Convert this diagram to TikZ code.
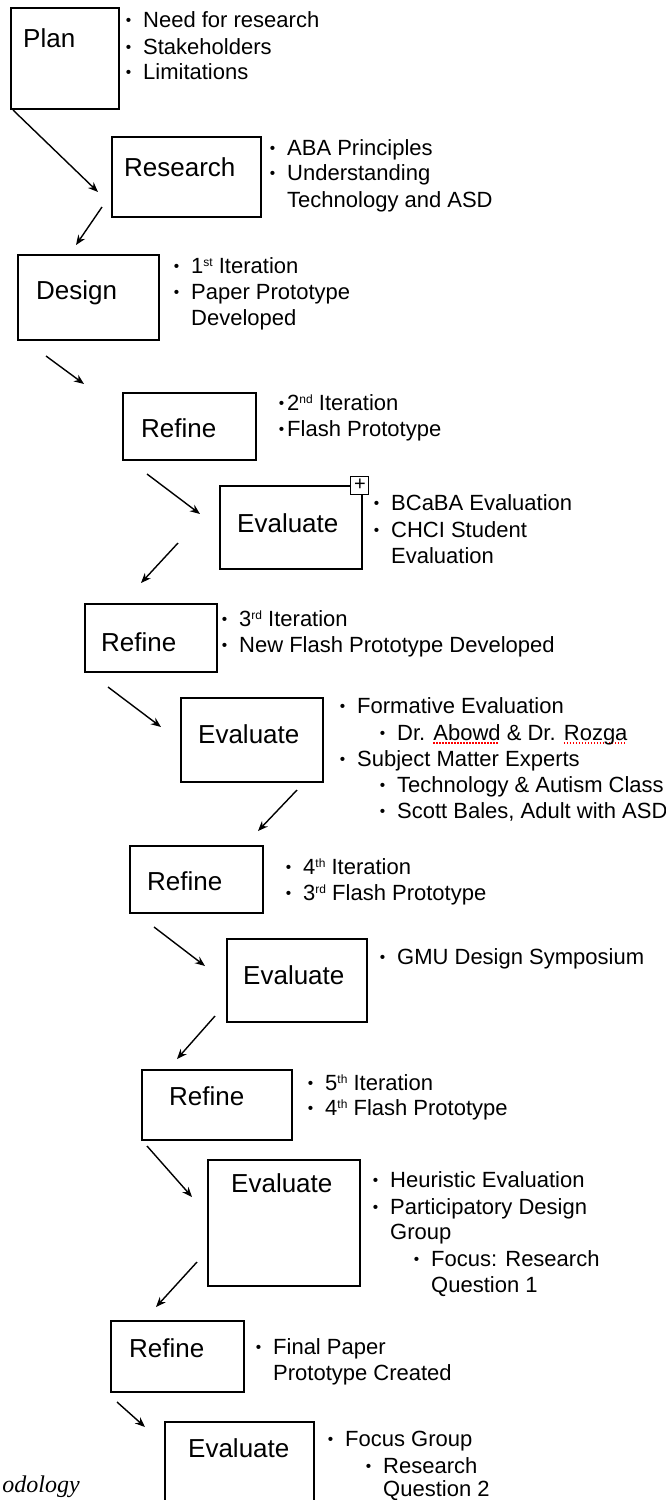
\documentclass[tikz,border=0pt]{standalone}
\usepackage{fontspec}
\setmainfont{Liberation Sans}
\newfontfamily\captionserif{Liberation Serif}
\usepackage{tikz}
\usetikzlibrary{arrows.meta, fit}

\newlength{\spellwd}
\newcommand{\bul}{\llap{\raisebox{1.8pt}{\scalebox{0.7}{\textbullet}}\hspace{12pt}}}
\newcommand{\tightbul}{\llap{\raisebox{1.8pt}{\scalebox{0.7}{\textbullet}}\hspace{3pt}}}
\newcommand{\ordsup}[1]{\raisebox{7pt}{\fontsize{12}{12}\selectfont #1}}
\newcommand{\spellmark}[1]{\settowidth{\spellwd}{#1}%
    \rlap{\textcolor{red}{\hbox to \spellwd{\leaders\hbox to 3pt{\rule[-3.5pt]{1.6pt}{1.2pt}\hss}\hfill}}}#1}

\begin{document}
\begin{tikzpicture}[x=1pt, y=-1pt,
    stage/.style={draw, line width=1.7pt, inner sep=0pt},
    stagetext/.style={anchor=base west, inner sep=0pt, font=\fontsize{26}{30}\selectfont},
    item/.style={anchor=base west, inner sep=0pt, font=\fontsize{22}{26}\selectfont},
    >={Stealth[length=10pt, width=8pt]}]
    \useasboundingbox (0,0) rectangle (665,1500);
    \clip (0,0) rectangle (665,1500);

    % Stage boxes and their names
    \foreach \n/\xa/\ya/\xb/\yb/\lx/\ly/\lab in {
        plan/11/8/119/109/23/47/Plan,
        research/112/137/261/217/124/176/Research,
        design/18/255/159/340/36/299/Design,
        refineA/123/393/256/460/141/437/Refine,
        evalA/220/486/362/569/237/532/Evaluate,
        refineB/85/604/217/672/101/651/Refine,
        evalB/181/698/323/782/198/743/Evaluate,
        refineC/130/846/263/913/147/890/Refine,
        evalC/227/939/367/1022/243/984/Evaluate,
        refineD/142/1070/292/1140/169/1105/Refine,
        evalD/208/1160/360/1286/231/1192/Evaluate,
        refineE/111/1321/244/1392/129/1357/Refine,
        evalE/165/1422/314/1530/188/1457/Evaluate} {
        \node[stage, fit={(\xa,\ya) (\xb,\yb)}] (\n) {};
        \node[stagetext] (\n-text) at (\lx,\ly) {\lab};
    }

    % Expand marker on the first Evaluate box
    \node[draw, fill=white, line width=1.2pt, minimum size=18pt, inner sep=0pt,
        font=\fontsize{20}{20}\selectfont] (toggle) at ([xshift=-3pt]evalA.north east) {+};

    % Bullet points
    \foreach \x/\y/\t [count=\i] in {
        143/27/\bul Need for research,
        143/54/\bul Stakeholders,
        143/79/\bul Limitations,
        287/155/\bul ABA Principles,
        287/180/\bul Understanding,
        287/207/Technology and ASD,
        191/273/\bul 1\ordsup{st} Iteration,
        191/299/\bul Paper Prototype,
        191/325/Developed,
        287/410/\tightbul 2\ordsup{nd} Iteration,
        287/436/\tightbul Flash Prototype,
        391/510/\bul BCaBA Evaluation,
        391/537/\bul CHCI Student,
        391/563/Evaluation,
        239/626/\bul 3\ordsup{rd} Iteration,
        239/652/\bul New Flash Prototype Developed,
        357/713/\bul Formative Evaluation,
        397/740/\bul Dr. \spellmark{Abowd} \& Dr. \spellmark{Rozga},
        357/766/\bul Subject Matter Experts,
        397/792/\bul Technology \& Autism Class,
        397/818/{\bul Scott Bales, Adult with ASD},
        303/874/\bul 4\ordsup{th} Iteration,
        303/900/\bul 3\ordsup{rd} Flash Prototype,
        397/964/\bul GMU Design Symposium,
        325/1090/\bul 5\ordsup{th} Iteration,
        325/1115/\bul 4\ordsup{th} Flash Prototype,
        390/1187/\bul Heuristic Evaluation,
        390/1214/\bul Participatory Design,
        390/1239/Group,
        431/1266/\bul Focus: Research,
        431/1292/Question 1,
        273/1354/\bul Final Paper,
        273/1380/Prototype Created,
        345/1446/\bul Focus Group,
        383/1473/\bul Research,
        383/1496/Question 2} {
        \node[item] (item-\i) at (\x,\y) {\t};
    }

    % Arrows between stages
    \foreach \i/\xa/\ya/\xb/\yb in {
        1/13/110/98/192, 2/102/207/76/245, 3/46/356/84/384,
        4/147/474/200/514, 5/178/543/141/583, 6/108/687/161/727,
        7/297/790/258/831, 8/154/927/205/966, 9/215/1016/177/1059,
        10/147/1146/192/1197, 11/197/1262/156/1307, 12/117/1402/145/1427} {
        \coordinate (from-\i) at (\xa,\ya);
        \coordinate (to-\i) at (\xb,\yb);
        \draw[->, line width=1.4pt] (from-\i) -- (to-\i);
    }

    % Caption fragment
    \node[anchor=base east, inner sep=0pt, font=\captionserif\itshape\fontsize{24}{24}\selectfont]
        (caption) at (80,1492) {odology};
\end{tikzpicture}
\end{document}
